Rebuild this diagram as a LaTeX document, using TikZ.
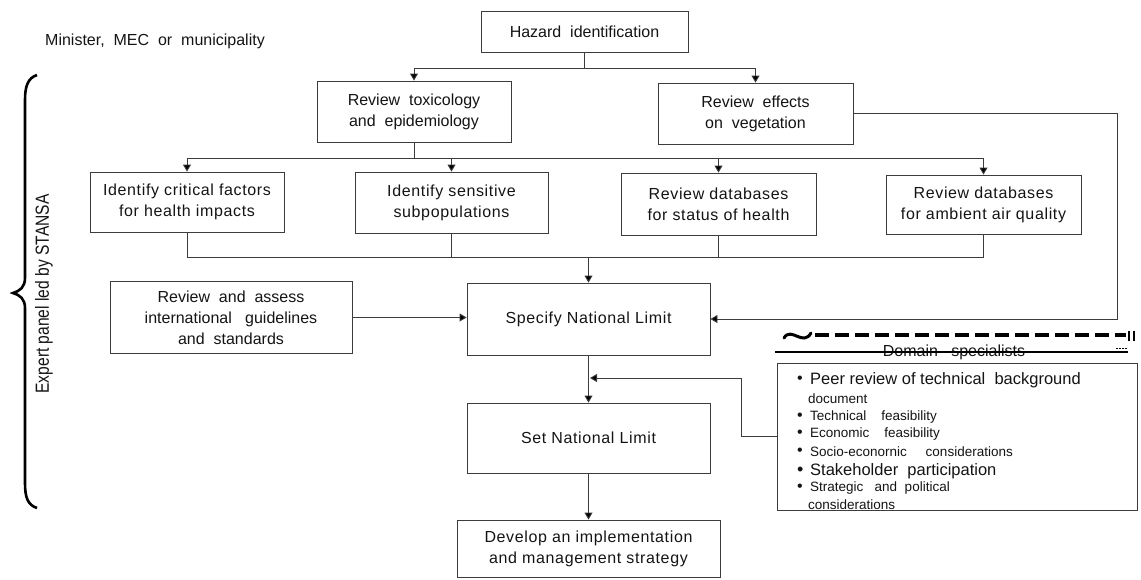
\documentclass[tikz,border=0pt]{standalone}
\usepackage{fontspec}
\setmainfont{Liberation Sans}
\newfontfamily\scanfont{Liberation Sans}[LetterSpace=4]
\usetikzlibrary{arrows.meta}
\definecolor{ink}{RGB}{20,20,20}
\definecolor{edge}{RGB}{60,60,60}
\tikzset{
  box/.style={draw=edge, line width=0.9pt, align=center, inner sep=0pt, text=ink},
  link/.style={draw=edge, line width=0.9pt},
  arr/.style={link, -{Triangle[length=7pt,width=8pt,fill=black]}},
  fbase/.style={font=\fontsize{16}{21}\selectfont},
  fwide/.style={font=\scanfont\fontsize{16}{21}\selectfont},
  fbig/.style={font=\fontsize{16.5}{20}\selectfont},
  fsmall/.style={font=\fontsize{13.5}{16}\selectfont},
  item/.style={anchor=west, inner sep=0pt, text=ink},
}
\begin{document}
\begin{tikzpicture}[x=1pt,y=-1pt]
\useasboundingbox (0,0) rectangle (1141,579);
% top text
\node[item, fbase] (minister) at (45,41) {Minister,\ \ MEC\ \ or\ \ municipality};
% boxes
\node[box, fbase, minimum width=207, minimum height=41] (haz) at (584.5,31.5) {Hazard\ \ identification};
\node[box, fbase, minimum width=194, minimum height=61] (tox) at (414,111.5) {Review\ \ toxicology\\and\ \ epidemiology};
\node[box, fbase, minimum width=195, minimum height=61] (veg) at (755.5,113.5) {Review\ \ effects\\on\ \ vegetation};
\node[box, fwide, minimum width=194, minimum height=60] (crit) at (187,202) {Identify critical factors\\for health impacts};
\node[box, fwide, minimum width=193, minimum height=61] (sens) at (451.5,202.5) {Identify sensitive\\subpopulations};
\node[box, fwide, minimum width=195, minimum height=62] (stat) at (718.5,204) {Review databases\\for status of health};
\node[box, fwide, minimum width=195, minimum height=59] (air) at (983.5,204.5) {Review databases\\for ambient air quality};
\node[box, fbase, minimum width=242, minimum height=72] (assess) at (231,317.5) {Review\ \ and\ \ assess\\international\ \ \ guidelines\\and\ \ standards};
\node[box, fwide, minimum width=243, minimum height=72] (spec) at (588.5,319) {Specify National Limit};
\node[box, fwide, minimum width=243, minimum height=70] (set) at (588.5,438) {Set National Limit};
\node[box, fwide, minimum width=263, minimum height=57] (dev) at (588.5,548.5) {Develop an implementation\\and management strategy};
\node[box, minimum width=360, minimum height=147] (dom) at (957,436.5) {};
% domain header
\draw[black, line width=3pt, line cap=round] (784,338) .. controls (791,326) and (803,347) .. (811,333);
\draw[black, line width=3.2pt, dash pattern=on 14pt off 6pt] (815,335) -- (1126,335);
\node[inner sep=0pt, fbase, text=ink] (domlabel) at (954,352) {Domain\ \ \ specialists};
\draw[black, line width=1.6pt] (775,352) -- (1128,352);
\draw[black, line width=1.8pt] (1129,331) -- (1129,341) (1134,331) -- (1134,341);
\draw[black, line width=1pt, dash pattern=on 1.5pt off 1.5pt] (1116,348) -- (1127,348);
% domain items
\foreach \y in {380,417,434,452,488} {\node[item, font=\fontsize{16}{16}\selectfont] at (797,\y) {\textbullet};}
\node[item, font=\fontsize{18}{18}\selectfont] at (797,471) {\textbullet};
\node[item, fbig] (i1) at (810,380) {Peer review of technical\ \ background};
\node[item, fsmall] (i1b) at (808,399) {document};
\node[item, fsmall] (i2) at (810,417) {Technical\ \ \ \ feasibility};
\node[item, fsmall] (i3) at (810,434) {Economic\ \ \ \ feasibility};
\node[item, fsmall] (i4) at (810,452) {Socio-econornic\ \ \ \ \ considerations};
\node[item, fbig] (i5) at (810,471) {Stakeholder\ \ participation};
\node[item, fsmall] (i6) at (810,488) {Strategic\ \ \ and\ \ political};
\node[item, fsmall] (i6b) at (808,505) {considerations};
% brace and side label
\draw[black, line width=2.6pt] (37,75) .. controls (28,78) and (25,86) .. (25,100) -- (25,278)
  .. controls (25,287) and (20,291) .. (13,293) .. controls (20,295) and (25,299) .. (25,308)
  -- (25,483) .. controls (25,498) and (28,505) .. (37,508);
\node[rotate=90, inner sep=0pt, text=ink] (expert) at (44,294) {\scalebox{0.82}[1]{\fontsize{19}{22}\selectfont Expert panel led by STANSA}};
% connectors
\coordinate (j1) at (584.5,68);
\draw[link] (haz.south) -- (j1);
\draw[arr] (j1) -| (tox.north);
\draw[arr] (j1) -| (veg.north);
\coordinate (j2) at (414,158);
\draw[link] (tox.south) -- (j2);
\draw[arr] (j2) -| (crit.north);
\draw[arr] (j2) -| (sens.north);
\draw[arr] (j2) -| (stat.north);
\draw[arr] (j2) -| (air.north);
\coordinate (j3) at (588.5,257);
\draw[link] (crit.south) |- (j3);
\draw[link] (sens.south) |- (j3);
\draw[link] (stat.south) |- (j3);
\draw[link] (air.south) |- (j3);
\draw[arr] (j3) -- (spec.north);
\draw[arr] (assess.east) -- (assess.east -| spec.west);
\coordinate (c1) at (1117,319);
\draw[arr] (veg.east) -| (c1) -- (spec.east);
\draw[arr] (spec.south) -- (set.north);
\coordinate (c2) at (590,378);
\draw[arr] (dom.west) -- ++(-35,0) |- (c2);
\draw[arr] (set.south) -- (dev.north);
\end{tikzpicture}
\end{document}
